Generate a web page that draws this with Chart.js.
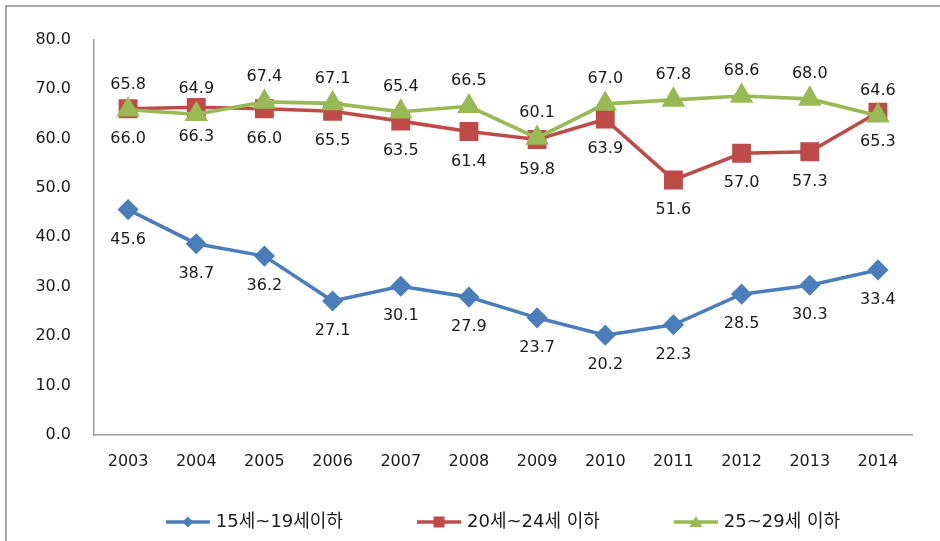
<!DOCTYPE html>
<html>
<head>
<meta charset="utf-8">
<script src="https://cdn.jsdelivr.net/npm/chart.js@4/dist/chart.umd.min.js"></script>
<style>
  html, body { margin: 0; padding: 0; background: #fff; overflow: hidden; }
  #frame { position: absolute; left: 5px; top: 5px; width: 933px; height: 540px;
           border-left: 2px solid #a6a6a6; border-top: 2px solid #a6a6a6; }
  canvas { display: block; }
</style>
</head>
<body>
<div id="frame"><canvas id="c" width="933" height="534"></canvas></div>
<script>
const years = ['2003','2004','2005','2006','2007','2008','2009','2010','2011','2012','2013','2014'];
const teen = [45.6, 38.7, 36.2, 27.1, 30.1, 27.9, 23.7, 20.2, 22.3, 28.5, 30.3, 33.4];
const early20s = [66.0, 66.3, 66.0, 65.5, 63.5, 61.4, 59.8, 63.9, 51.6, 57.0, 57.3, 65.3];
const late20s = [65.8, 64.9, 67.4, 67.1, 65.4, 66.5, 60.1, 67.0, 67.8, 68.6, 68.0, 64.6];
const seriesNames = ['15세~19세이하', '20세~24세 이하', '25~29세 이하'];
const yTicks = [0, 10, 20, 30, 40, 50, 60, 70, 80];

const BLUE = '#4a7ebb', RED = '#be4b48', GREEN = '#98b954';
const TEXT = '#1a1a1a';
const FONT = '"DejaVu Sans", "Noto Sans CJK KR", sans-serif';
const labelOffsets = [30, 30, -25];

function legendImg(color, style) {
  const c = document.createElement('canvas');
  c.width = 108; c.height = 18;
  const g = c.getContext('2d');
  g.strokeStyle = color; g.fillStyle = color; g.lineWidth = 3.5;
  g.beginPath(); g.moveTo(63, 9); g.lineTo(107, 9); g.stroke();
  const cx = 85, cy = 9;
  g.beginPath();
  if (style === 'diamond') {
    g.moveTo(cx, cy - 5.5); g.lineTo(cx + 5.5, cy); g.lineTo(cx, cy + 5.5); g.lineTo(cx - 5.5, cy);
  } else if (style === 'square') {
    g.rect(cx - 5.5, cy - 5.5, 11, 11);
  } else {
    g.moveTo(cx, cy - 6); g.lineTo(cx + 6.5, cy + 5); g.lineTo(cx - 6.5, cy + 5);
  }
  g.closePath(); g.fill();
  return c;
}
const legendImgs = [legendImg(BLUE, 'diamond'), legendImg(RED, 'square'), legendImg(GREEN, 'triangle')];

const valueLabels = {
  id: 'valueLabels',
  afterDatasetsDraw(chart) {
    const ctx = chart.ctx;
    ctx.save();
    ctx.font = '16px ' + FONT;
    ctx.fillStyle = TEXT;
    ctx.textAlign = 'center';
    ctx.textBaseline = 'middle';
    chart.data.datasets.forEach((ds, i) => {
      const meta = chart.getDatasetMeta(i);
      meta.data.forEach((pt, j) => {
        ctx.fillText(ds.data[j].toFixed(1), pt.x, pt.y + labelOffsets[i]);
      });
    });
    ctx.restore();
  }
};

new Chart(document.getElementById('c'), {
  type: 'line',
  data: {
    labels: years,
    datasets: [
      { label: seriesNames[0], data: teen, borderColor: BLUE, backgroundColor: BLUE,
        pointStyle: 'rectRot', pointRadius: 8, pointHoverRadius: 8, borderWidth: 3.6, order: 3 },
      { label: seriesNames[1], data: early20s, borderColor: RED, backgroundColor: RED,
        pointStyle: 'rect', pointRadius: 10.8, pointHoverRadius: 10.8, borderWidth: 3.6, order: 2 },
      { label: seriesNames[2], data: late20s, borderColor: GREEN, backgroundColor: GREEN,
        pointStyle: 'triangle', pointRadius: 10, pointHoverRadius: 10, borderWidth: 3.6, order: 1 }
    ]
  },
  options: {
    responsive: false,
    animation: false,
    layout: { padding: { left: 0, right: 0, top: 28, bottom: 0 } },
    elements: { line: { tension: 0 }, point: { borderWidth: 0 } },
    scales: {
      x: {
        offset: true,
        grid: { display: true, drawOnChartArea: false, drawTicks: false },
        border: { display: true, color: '#a0a0a0', width: 1.5 },
        ticks: { color: TEXT, font: { family: FONT, size: 16 }, padding: 17, maxRotation: 0, autoSkip: false },
        afterFit(s) { s.height = 63; }
      },
      y: {
        min: 0, max: 80,
        afterBuildTicks(s) { s.ticks = yTicks.map(v => ({ value: v })); },
        grid: { display: true, drawOnChartArea: false, drawTicks: false },
        border: { display: true, color: '#a0a0a0', width: 1.5 },
        ticks: { color: TEXT, font: { family: FONT, size: 16 }, padding: 23,
                 callback: v => Number(v).toFixed(1) },
        afterFit(s) { s.width = 87; }
      },
      ySpacer: {
        position: 'right',
        display: true,
        grid: { display: false, drawTicks: false },
        border: { display: false },
        ticks: { display: false },
        afterFit(s) { s.width = 28; }
      }
    },
    plugins: {
      legend: {
        position: 'bottom',
        labels: {
          usePointStyle: true,
          pointStyleWidth: 100,
          padding: 15,
          color: TEXT,
          font: { family: FONT, size: 18 },
          sort: (a, b) => a.datasetIndex - b.datasetIndex,
          generateLabels(chart) {
            const items = Chart.defaults.plugins.legend.labels.generateLabels(chart);
            items.forEach(it => { it.pointStyle = legendImgs[it.datasetIndex]; });
            return items;
          }
        }
      },
      tooltip: { enabled: false }
    }
  },
  plugins: [valueLabels]
});
</script>
</body>
</html>
